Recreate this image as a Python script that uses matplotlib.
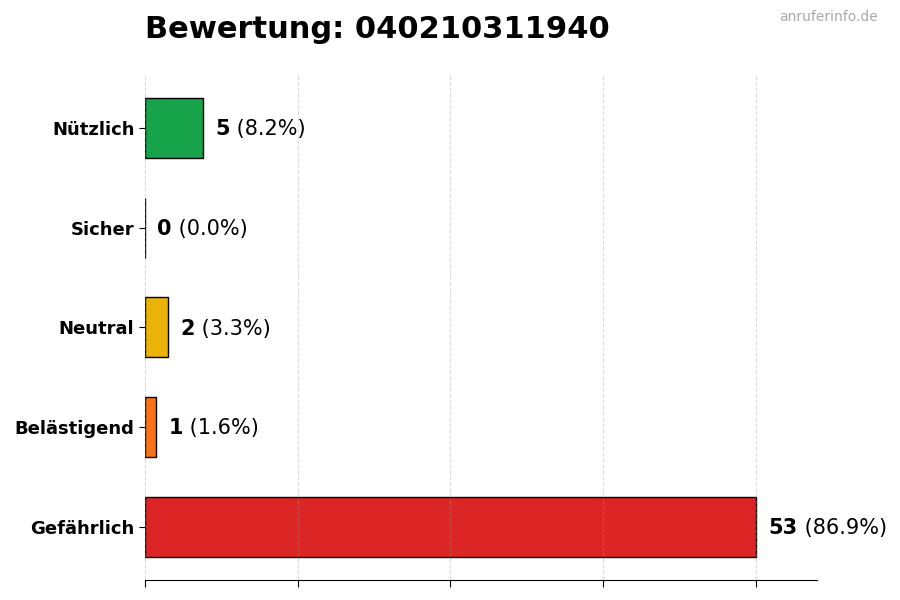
import matplotlib
matplotlib.use("Agg")
import matplotlib.pyplot as plt
import numpy as np

categories = ["Nützlich", "Sicher", "Neutral", "Belästigend", "Gefährlich"]
values = [5, 0, 2, 1, 53]
colors = ["#16a34a", "#9ca3af", "#eab308", "#f97316", "#dc2626"]
title = "Bewertung: 040210311940"
watermark = "anruferinfo.de"

total = sum(values)
fig = plt.figure(figsize=(9, 6), dpi=100)
ax = fig.add_axes([0.161, 0.0333, 0.747, 0.842])

y = np.arange(len(categories))
ax.barh(y, values, height=0.6, color=colors, edgecolor="black", linewidth=1, zorder=2)
ax.invert_yaxis()
vmax = max(values)
ax.set_xlim(0, vmax * 1.1)
ax.set_xticks(np.linspace(0, vmax, 5))
ax.set_xticklabels([])
ax.set_yticks(y)
ax.set_yticklabels(categories, fontsize=13, fontweight="bold")
ax.set_axisbelow(False)
ax.grid(axis="x", linestyle="--", color="#999999", alpha=0.35, linewidth=0.8, zorder=3)
for s in ["top", "right", "left"]:
    ax.spines[s].set_visible(False)
ax.tick_params(axis="x", length=5)
ax.tick_params(axis="y", length=4)

fig.canvas.draw()
for yi, v in zip(y, values):
    t1 = ax.annotate(f"{v}", xy=(v, yi), xytext=(9, -0.8), textcoords="offset points",
                     va="center", ha="left", fontsize=15, fontweight="bold", zorder=4)
    pct = 100 * v / total
    ax.annotate(f" ({pct:.1f}%)", xy=(1, 0), xycoords=t1, va="bottom", ha="left",
                fontsize=15, zorder=4)

fig.text(0.161, 0.95, title, fontsize=22, fontweight="bold", ha="left", va="center")
fig.text(0.975, 0.972, watermark, fontsize=10, color="#aaaaaa", ha="right", va="center")

fig.savefig("out.png", dpi=100)
